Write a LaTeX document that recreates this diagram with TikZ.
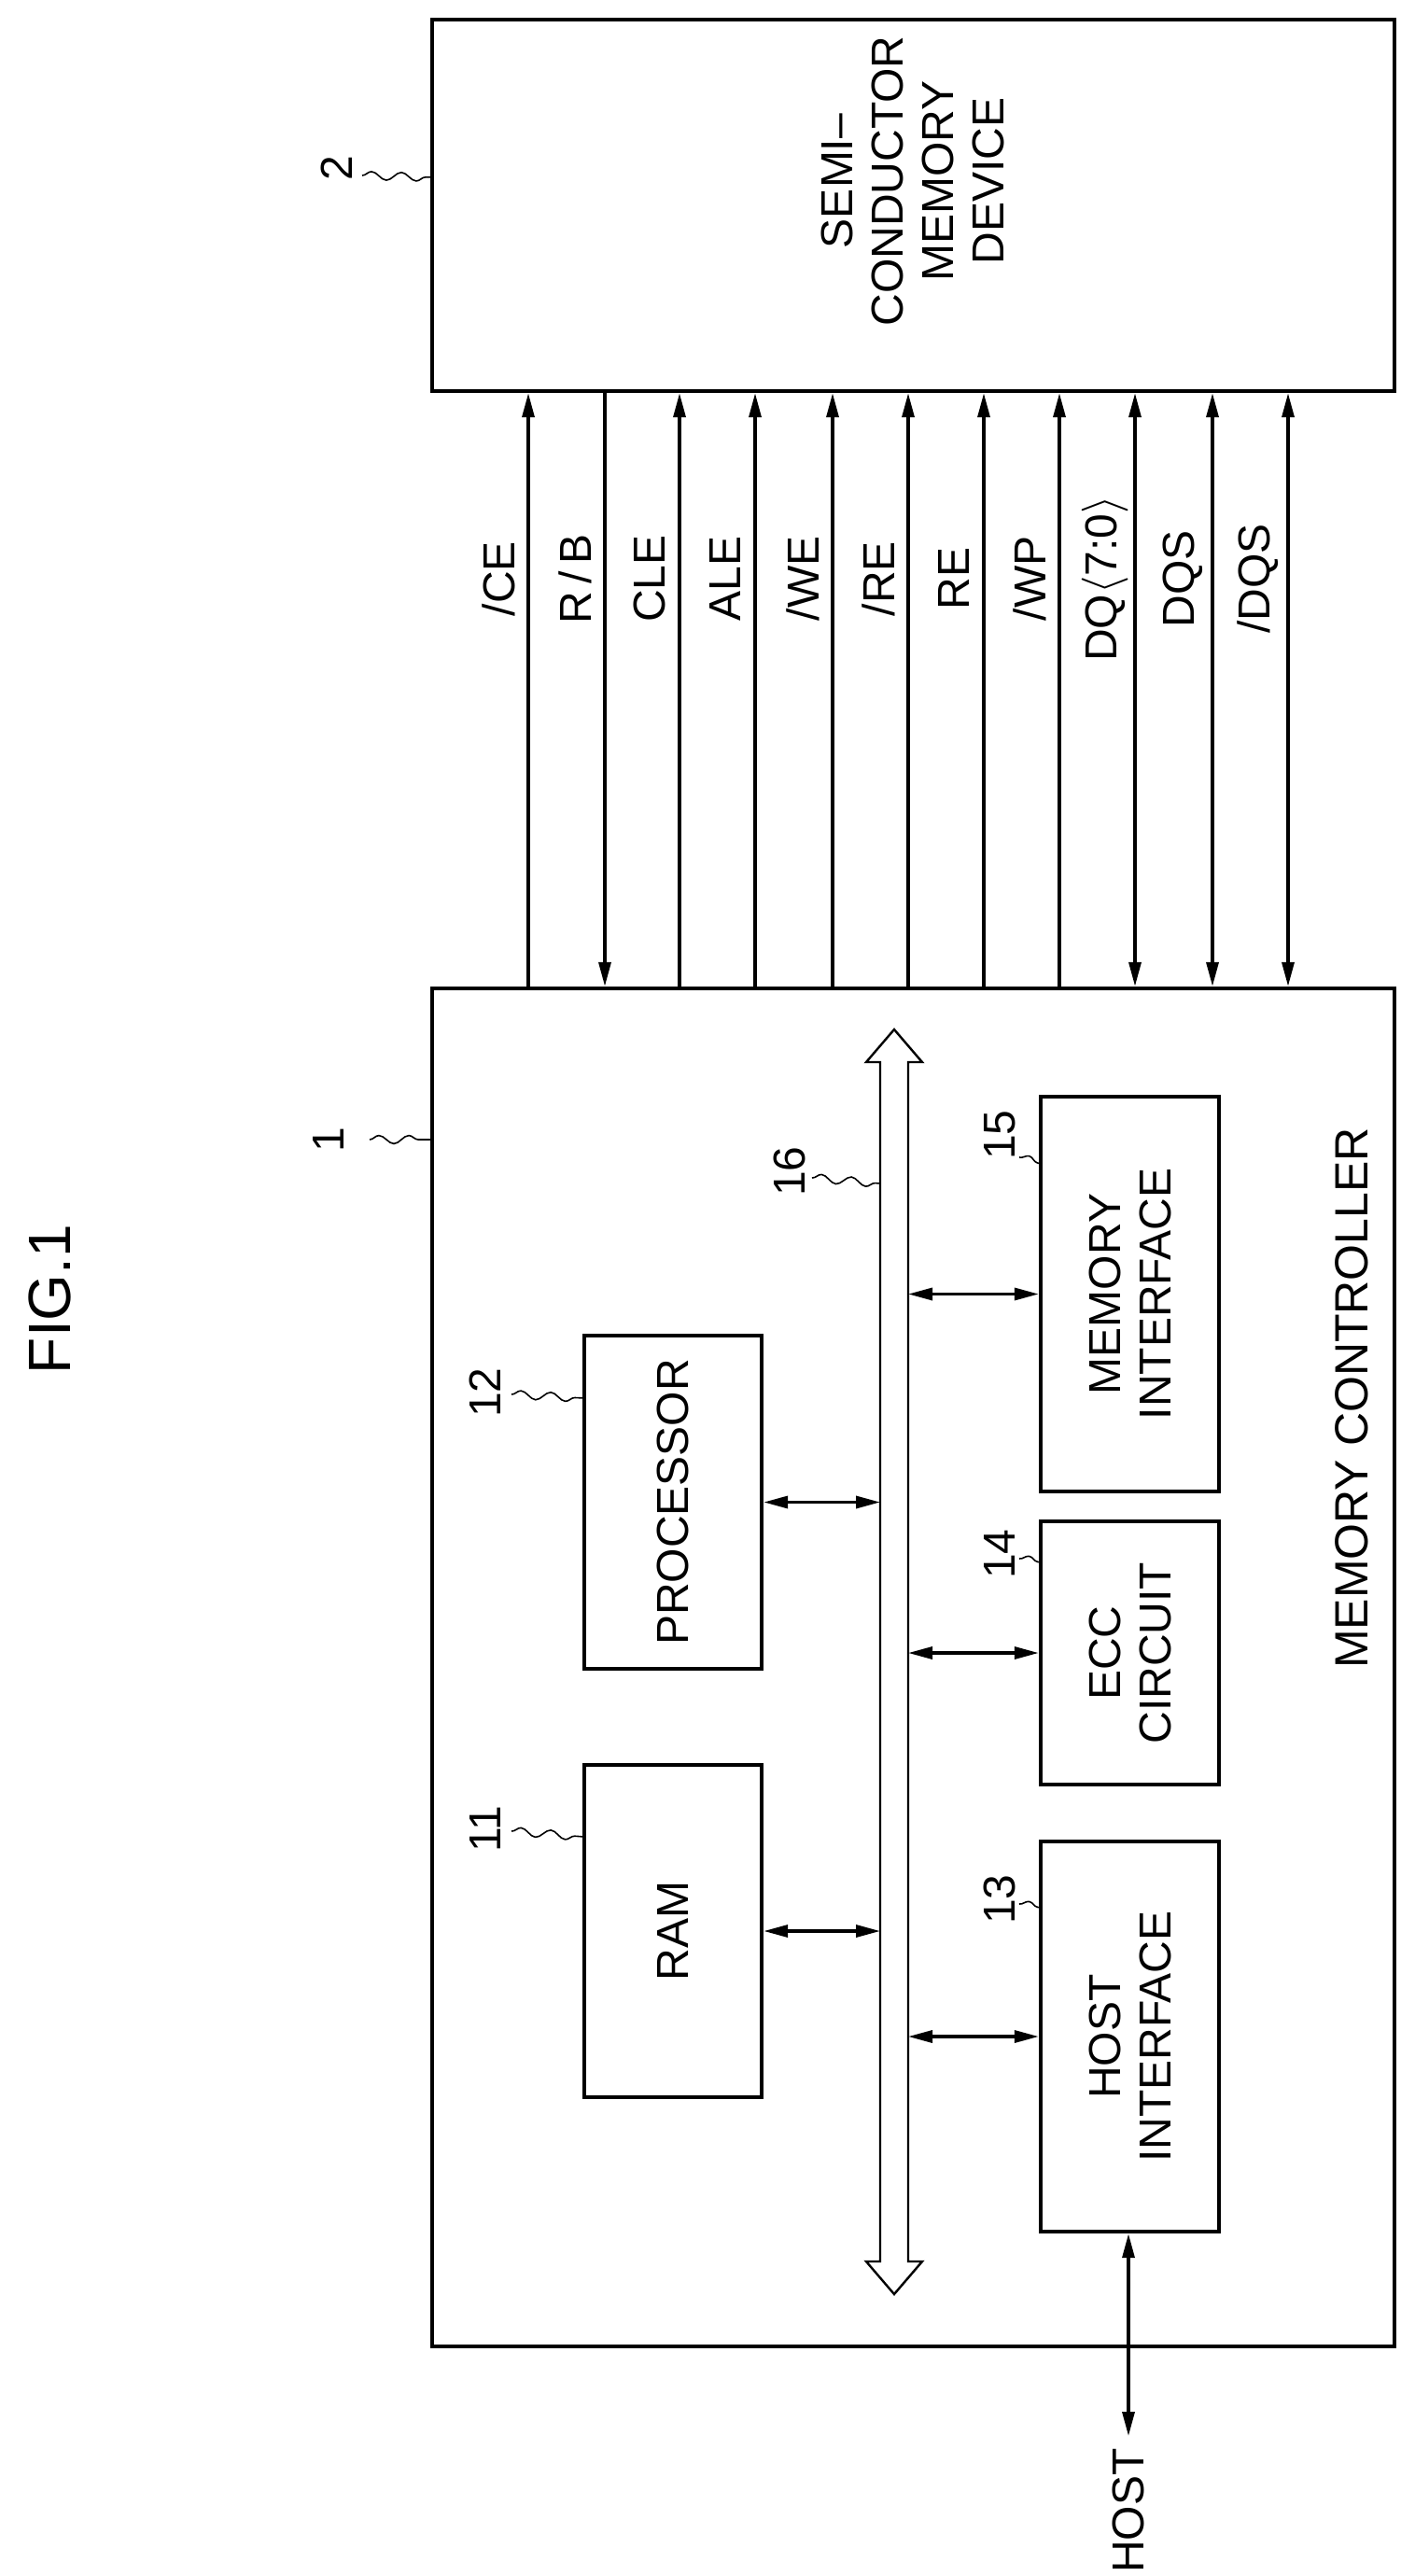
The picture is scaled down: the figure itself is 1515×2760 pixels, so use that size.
\documentclass[tikz,border=0pt]{standalone}
\usepackage{fontspec}
\setmainfont{Liberation Sans}
\usetikzlibrary{arrows.meta,decorations.pathmorphing}
\begin{document}
\begin{tikzpicture}[x=0.5pt,y=-0.5pt,
  txt/.style={font=\fontsize{24}{27}\selectfont, rotate=90, align=center},
  box/.style={draw, line width=2.2pt, inner sep=0pt},
  sig/.style={line width=1.7pt, -{Triangle[length=13pt,width=6.5pt]}},
  bsig/.style={line width=1.7pt, {Triangle[length=13pt,width=6.5pt]}-{Triangle[length=13pt,width=6.5pt]}},
  tilde/.style={line width=0.8pt, decorate, decoration={snake, amplitude=2.2pt, segment length=16pt}},
  num/.style={font=\fontsize{24}{27}\selectfont, rotate=90, inner sep=1pt}]
\useasboundingbox (0,0) rectangle (1515,2760);
% boxes
\node[box, minimum width=515.5pt, minimum height=199pt] (dev) at (978.5,220) {};
\node[txt] at (978,194) {SEMI--\\CONDUCTOR\\MEMORY\\DEVICE};
\node[box, minimum width=515.5pt, minimum height=727.5pt] (mc) at (978.5,1786.5) {};
\node[txt, font=\fontsize{25}{28}\selectfont] at (1448,1498) {MEMORY CONTROLLER};
\node[box, minimum width=95pt, minimum height=178pt] (ram) at (721,2069) {};
\node[txt] at (721,2069) {RAM};
\node[box, minimum width=95pt, minimum height=178.5pt] (proc) at (721,1609.5) {};
\node[txt] at (721,1609.5) {PROCESSOR};
\node[box, minimum width=95.5pt, minimum height=211.5pt] (mif) at (1210.5,1386.5) {};
\node[txt] at (1210.5,1386.5) {MEMORY\\INTERFACE};
\node[box, minimum width=95.5pt, minimum height=141pt] (ecc) at (1210.5,1771) {};
\node[txt] at (1210.5,1771) {ECC\\CIRCUIT};
\node[box, minimum width=95.5pt, minimum height=209pt] (hif) at (1210.5,2182) {};
\node[txt] at (1210.5,2182) {HOST\\INTERFACE};
% bus
\draw[line width=1.2pt] (958,1103) -- (988,1138) -- (973,1138) -- (973,2423) -- (988,2423)
  -- (958,2458) -- (928,2423) -- (943,2423) -- (943,1138) -- (928,1138) -- cycle;
\coordinate (busL) at (943,0);
\coordinate (busR) at (973,0);
\draw[bsig] (ram.east) -- (ram.east -| busL);
\draw[bsig] (proc.east) -- (proc.east -| busL);
\draw[bsig] (mif.west) -- (mif.west -| busR);
\draw[bsig] (ecc.west) -- (ecc.west -| busR);
\draw[bsig] (hif.west) -- (hif.west -| busR);
% host
\node[txt] (hostl) at (1209,2690) {HOST};
\coordinate (hostend) at (1209,2610);
\draw[bsig] (hif.south -| hostend) -- (hostend);
% signals
\foreach \x in {566,648,728,809,892,973,1054,1135,1216,1299,1380}{\coordinate (c\x) at (\x,0);}
\node[txt] at (534,620) {/CE};
\node[txt] at (616,620) {R\,/\,B};
\node[txt] at (696,620) {CLE};
\node[txt] at (777,620) {ALE};
\node[txt] at (860,620) {/WE};
\node[txt] at (941,620) {/RE};
\node[txt] at (1022,620) {RE};
\node[txt] at (1103,620) {/WP};
\node[txt] at (1184,620) {DQ$\langle$7:0$\rangle$};
\node[txt] at (1267,620) {DQS};
\node[txt] at (1348,620) {/DQS};
\draw[sig] (mc.north -| c566) -- (dev.south -| c566);
\draw[sig] (dev.south -| c648) -- (mc.north -| c648);
\foreach \x in {728,809,892,973,1054,1135}{\draw[sig] (mc.north -| c\x) -- (dev.south -| c\x);}
\foreach \x in {1216,1299,1380}{\draw[bsig] (mc.north -| c\x) -- (dev.south -| c\x);}
% reference numerals
\node[font=\fontsize{32}{36}\selectfont, rotate=90] (fig) at (53,1392) {FIG.1};
\node[num] (n2) at (361,180) {2};
\coordinate (t2) at (463,190);
\draw[tilde] (388,188) -- (t2);
\node[num] (n1) at (352,1221) {1};
\coordinate (t1) at (463,1221);
\draw[tilde] (396,1221) -- (t1);
\node[num] (n11) at (520,1960) {11};
\coordinate (t11) at (626,1968);
\draw[tilde] (548,1962) -- (t11);
\node[num] (n12) at (520,1492) {12};
\coordinate (t12) at (626,1498);
\draw[tilde] (548,1494) -- (t12);
\node[num] (n13) at (1071,2035) {13};
\coordinate (t13) at (1115,2044);
\draw[tilde] (1092,2040) -- (t13);
\node[num] (n14) at (1071,1665) {14};
\coordinate (t14) at (1115,1674);
\draw[tilde] (1092,1670) -- (t14);
\node[num] (n15) at (1071,1216) {15};
\coordinate (t15) at (1115,1247);
\draw[tilde] (1092,1240) -- (t15);
\node[num] (n16) at (846,1255) {16};
\coordinate (t16) at (943,1268);
\draw[tilde] (870,1262) -- (t16);
\end{tikzpicture}
\end{document}
